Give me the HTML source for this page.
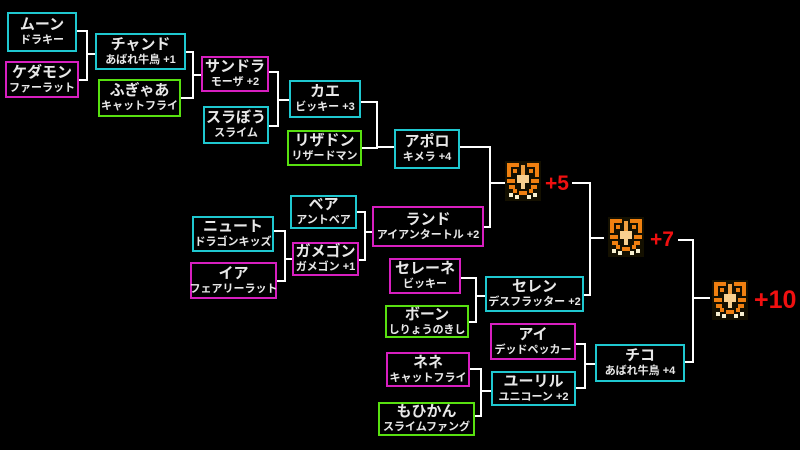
<!DOCTYPE html>
<html><head><meta charset="utf-8"><style>
body{margin:0;width:800px;height:450px;background:#000;overflow:hidden;position:relative;font-family:"Liberation Sans","Noto Sans CJK JP",sans-serif;font-weight:bold;color:#e8e8e8}
.b{position:absolute;box-sizing:border-box;border:2px solid;display:flex;flex-direction:column;align-items:center;justify-content:center;line-height:1.2;white-space:nowrap}
.c{border-color:#1fc8d0}.m{border-color:#d81fc0}.g{border-color:#58e010}
.n{font-size:15px}.s{font-size:11px}
.p{position:absolute;color:#f01010;font-family:"Liberation Sans",sans-serif;font-weight:bold}
svg{position:absolute;left:0;top:0}
</style></head><body>
<svg width="800" height="450">
<g fill="none" stroke="#fff" stroke-width="2">
<path d="M77,31H87V80H79M87,54H95"/>
<path d="M186,52H193V98H181M193,75H201"/>
<path d="M269,72H278V126H269M278,100H289"/>
<path d="M361,102H377V148H362M377,147H394"/>
<path d="M460,147H490V227H484M490,183H505"/>
<path d="M572,183H590V295H584M590,238H604"/>
<path d="M678,240H693V362H685M693,298H710"/>
<path d="M274,231H285V281H277M285,259H292"/>
<path d="M357,212H365V260H359M365,232H372"/>
<path d="M461,278H476V322H469M476,296H485"/>
<path d="M576,344H585V388H576M585,364H595"/>
<path d="M470,369H481V416H475M481,391H491"/>
</g>
<defs><g id="t">
<rect x="2" y="2" width="36" height="40" fill="#141000"/>
<path d="M4,4h12v4h-8v10h-4zM24,4h12v14h-4v-10h-8z" fill="#f08010"/>
<path d="M10,10h4v4h-4zM26,10h4v4h-4zM4,20h8v4h-8zM28,20h8v4h-8zM6,26h6v4h-6zM28,26h6v4h-6z" fill="#f08010"/>
<path d="M18,6h4v10h-4z" fill="#f0a040"/>
<path d="M14,16h12v8h-12zM18,24h4v6h-4z" fill="#f8d090"/>
<path d="M10,30h4v4h-4zM26,30h4v4h-4zM16,32h8v4h-8z" fill="#f08010"/>
<path d="M6,34h4v4h-4zM30,34h4v4h-4zM12,36h4v4h-4zM24,36h4v4h-4z" fill="#f8f0d0"/>
</g></defs>
<use href="#t" x="503" y="159"/>
<use href="#t" x="606" y="215"/>
<use href="#t" x="710" y="278"/>
</svg>
<div class="p" style="left:545px;top:172px;font-size:21px">+5</div>
<div class="p" style="left:650px;top:228px;font-size:21px">+7</div>
<div class="p" style="left:754px;top:286px;font-size:25px">+10</div>

<div class="b c" style="left:7px;top:12px;width:70px;height:40px"><span class="n">ムーン</span><span class="s">ドラキー</span></div>
<div class="b m" style="left:5px;top:61px;width:74px;height:37px"><span class="n">ケダモン</span><span class="s">ファーラット</span></div>
<div class="b c" style="left:95px;top:33px;width:91px;height:37px"><span class="n">チャンド</span><span class="s">あばれ牛鳥 +1</span></div>
<div class="b g" style="left:98px;top:79px;width:83px;height:38px"><span class="n">ふぎゃあ</span><span class="s">キャットフライ</span></div>
<div class="b m" style="left:201px;top:56px;width:68px;height:36px"><span class="n">サンドラ</span><span class="s">モーザ +2</span></div>
<div class="b c" style="left:203px;top:106px;width:66px;height:38px"><span class="n">スラぼう</span><span class="s">スライム</span></div>
<div class="b c" style="left:289px;top:80px;width:72px;height:38px"><span class="n">カエ</span><span class="s">ビッキー +3</span></div>
<div class="b g" style="left:287px;top:130px;width:75px;height:36px"><span class="n">リザドン</span><span class="s">リザードマン</span></div>
<div class="b c" style="left:394px;top:129px;width:66px;height:40px"><span class="n">アポロ</span><span class="s">キメラ +4</span></div>
<div class="b c" style="left:192px;top:216px;width:82px;height:36px"><span class="n">ニュート</span><span class="s">ドラゴンキッズ</span></div>
<div class="b m" style="left:190px;top:262px;width:87px;height:37px"><span class="n">イア</span><span class="s">フェアリーラット</span></div>
<div class="b c" style="left:290px;top:195px;width:67px;height:34px"><span class="n">ベア</span><span class="s">アントベア</span></div>
<div class="b m" style="left:292px;top:242px;width:67px;height:34px"><span class="n">ガメゴン</span><span class="s">ガメゴン +1</span></div>
<div class="b m" style="left:372px;top:206px;width:112px;height:41px"><span class="n">ランド</span><span class="s">アイアンタートル +2</span></div>
<div class="b m" style="left:389px;top:258px;width:72px;height:36px"><span class="n">セレーネ</span><span class="s">ビッキー</span></div>
<div class="b g" style="left:385px;top:305px;width:84px;height:33px"><span class="n">ボーン</span><span class="s">しりょうのきし</span></div>
<div class="b c" style="left:485px;top:276px;width:99px;height:36px"><span class="n">セレン</span><span class="s">デスフラッター +2</span></div>
<div class="b m" style="left:490px;top:323px;width:86px;height:37px"><span class="n">アイ</span><span class="s">デッドペッカー</span></div>
<div class="b m" style="left:386px;top:352px;width:84px;height:35px"><span class="n">ネネ</span><span class="s">キャットフライ</span></div>
<div class="b c" style="left:491px;top:371px;width:85px;height:35px"><span class="n">ユーリル</span><span class="s">ユニコーン +2</span></div>
<div class="b g" style="left:378px;top:402px;width:97px;height:34px"><span class="n">もひかん</span><span class="s">スライムファング</span></div>
<div class="b c" style="left:595px;top:344px;width:90px;height:38px"><span class="n">チコ</span><span class="s">あばれ牛鳥 +4</span></div>
</body></html>
